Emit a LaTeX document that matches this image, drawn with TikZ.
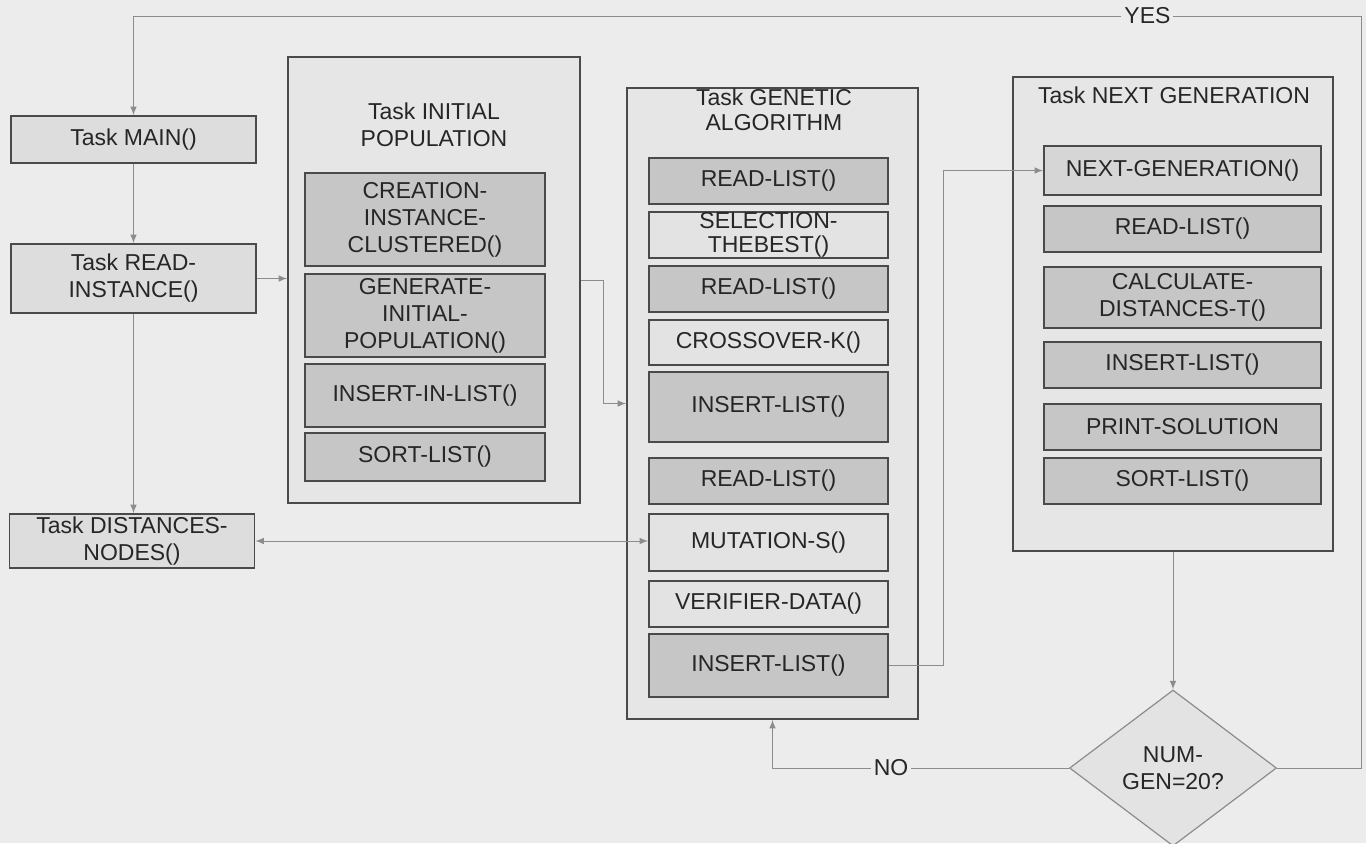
\documentclass[tikz,border=0pt]{standalone}
\usepackage{fontspec}
\setmainfont{Liberation Sans}
\usepackage{xcolor}
\usepackage{tikz}
\usetikzlibrary{arrows,positioning,calc}
\usetikzlibrary{shapes.geometric}

\definecolor{paper}{HTML}{ECECEC}
\definecolor{taskfill}{HTML}{DDDDDD}
\definecolor{groupfill}{HTML}{E6E6E6}
\definecolor{darkfill}{HTML}{C6C6C6}
\definecolor{midfill}{HTML}{D6D6D6}
\definecolor{lightfill}{HTML}{E3E3E3}
\definecolor{edge}{HTML}{4A4A4A}
\definecolor{wire}{HTML}{8C8C8C}

\tikzset{
	taskbox/.style={draw=edge, line width=0.8pt, fill=taskfill, minimum width=122.5pt, align=center, inner sep=1pt},
	groupbox/.style={draw=edge, line width=0.8pt, fill=groupfill, inner sep=0pt},
	callbox/.style={draw=edge, line width=0.8pt, fill=darkfill, align=center, inner sep=1pt},
	calllight/.style={callbox, fill=lightfill},
	decision/.style={diamond, draw=wire, line width=0.6pt, fill=lightfill, align=center, inner sep=0pt, minimum width=103.5pt, minimum height=78pt},
	link/.style={draw=wire, line width=0.5pt, -latex},
	lbl/.style={fill=paper, inner sep=1.5pt}
}

\begin{document}
\begin{tikzpicture}[x=0.5pt, y=-0.5pt, font=\fontsize{11.5}{13.5}\selectfont, text=black!85]
		\useasboundingbox (0,0) rectangle (1366,843);
		\fill[paper] (0,0) rectangle (1366,843);
		% left column
		\node[taskbox, minimum height=23.5pt] (main) at (133.5,139.5) {Task MAIN()};
		\node[taskbox, minimum height=34.5pt] (read) at (133.5,278.5) {Task READ-\\INSTANCE()};
		\node[taskbox, minimum height=27pt] (dist) at (132,541) {Task DISTANCES-\\NODES()};
		% initial population
		\node[groupbox, minimum width=146pt, minimum height=223pt] (init) at (434,280) {};
		\node[align=center] (inittitle) at (434,125) {Task INITIAL\\POPULATION};
		\begin{scope}[callbox/.append style={minimum width=120pt}]
			\node[callbox, minimum height=46.5pt] (creation) at (425,219.5) {CREATION-\\INSTANCE-\\CLUSTERED()};
			\node[callbox, minimum height=41.5pt] (generate) at (425,315.5) {GENERATE-\\INITIAL-\\POPULATION()};
			\node[callbox, minimum height=31.5pt] (insertin) at (425,395.5) {INSERT-IN-LIST()};
			\node[callbox, minimum height=24pt] (sortA) at (425,457) {SORT-LIST()};
		\end{scope}
		% genetic algorithm
		\node[groupbox, minimum width=145.5pt, minimum height=315.5pt] (ga) at (772.5,403.5) {};
		\node[align=center, font=\fontsize{11.5}{12.5}\selectfont] (gatitle) at (774,110) {Task GENETIC\\ALGORITHM};
		\begin{scope}[callbox/.append style={minimum width=119.5pt}]
			\node[callbox, minimum height=23pt] (readA) at (768.5,181) {READ-LIST()};
			\node[calllight, minimum height=23pt, inner sep=0pt, font=\fontsize{11.5}{12}\selectfont] (select) at (768.5,235) {SELECTION-\\THEBEST()};
			\node[callbox, minimum height=23pt] (readB) at (768.5,289) {READ-LIST()};
			\node[calllight, minimum height=22.5pt] (cross) at (768.5,342.5) {CROSSOVER-K()};
			\node[callbox, minimum height=35pt] (insA) at (768.5,407) {INSERT-LIST()};
			\node[callbox, minimum height=23pt] (readC) at (768.5,481) {READ-LIST()};
			\node[calllight, minimum height=28.5pt] (mut) at (768.5,542.5) {MUTATION-S()};
			\node[calllight, minimum height=23pt] (verif) at (768.5,604) {VERIFIER-DATA()};
			\node[callbox, minimum height=31.5pt] (insB) at (768.5,665.5) {INSERT-LIST()};
		\end{scope}
		% next generation
		\node[groupbox, minimum width=160pt, minimum height=237pt] (next) at (1173,314) {};
		\node (nexttitle) at (1174,95) {Task NEXT GENERATION};
		\begin{scope}[callbox/.append style={minimum width=138.5pt}]
			\node[callbox, fill=midfill, minimum height=24.5pt] (nextgen) at (1182.5,170.5) {NEXT-GENERATION()};
			\node[callbox, minimum height=23pt] (readD) at (1182.5,229) {READ-LIST()};
			\node[callbox, minimum height=30.5pt] (calcd) at (1182.5,297.5) {CALCULATE-\\DISTANCES-T()};
			\node[callbox, minimum height=23pt] (insC) at (1182.5,365) {INSERT-LIST()};
			\node[callbox, minimum height=23pt] (print) at (1182.5,427) {PRINT-SOLUTION};
			\node[callbox, minimum height=23pt] (sortB) at (1182.5,481) {SORT-LIST()};
		\end{scope}
		\node[decision] (dec) at (1173,768) {NUM-\\GEN=20?};
		% connectors
		\coordinate (yesR) at (1361,16);
		\coordinate (yesL) at (133.5,16);
		\draw[link] (dec.east) -| (yesR) -- node[lbl, pos=0.174] {YES} (yesL) -- (main.north);
		\draw[link] (main.south) -- (read.north);
		\draw[link] (read.south) -- (read.south |- dist.north);
		\draw[link] (read.east) -- (read.east -| init.west);
		\draw[link] (init.east) -- ++(23,0) |- (ga.west);
		\draw[link, latex-latex] (dist.east) -- (dist.east -| mut.west);
		\draw[link] (insB.east) -- ++(55,0) |- (nextgen.west);
		\draw[link] (next.south) -- (dec.north);
		\draw[link] (dec.west) -| node[lbl, pos=0.3] {NO} (ga.south);
	\end{tikzpicture}
\end{document}
